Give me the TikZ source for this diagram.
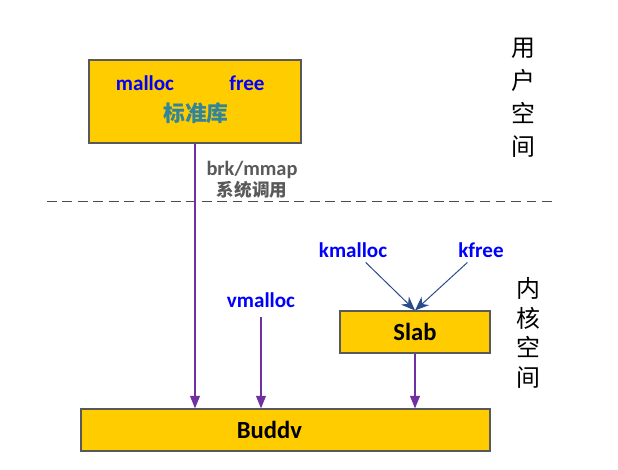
\documentclass[tikz,border=0pt]{standalone}
\usepackage{fontspec}
\setmainfont{Carlito}
\newfontfamily\cjk{Noto Sans CJK SC}
\usetikzlibrary{arrows.meta}
\definecolor{boxyellow}{RGB}{255,204,0}
\definecolor{callpurple}{RGB}{112,48,160}
\definecolor{fnblue}{RGB}{0,0,255}
\definecolor{libteal}{RGB}{49,133,155}
\definecolor{sysgray}{RGB}{89,89,89}
\definecolor{slabarrow}{RGB}{40,75,140}

\begin{document}
\begin{tikzpicture}
[x=0.025cm,y=-0.025cm,
 box/.style={draw=black!65,line width=0.8pt,fill=boxyellow,inner sep=0pt},
 fn/.style={text=fnblue,font=\fontsize{15}{16}\selectfont\bfseries},
 space/.style={align=center,font=\cjk\fontsize{17}{23.5}\selectfont},
 call/.style={draw=callpurple,line width=1.1pt,-{Triangle[length=9pt,width=7pt]}},
 feed/.style={draw=slabarrow,line width=0.7pt,-{Stealth[length=10pt,width=8pt]}}]
\useasboundingbox (0,0) rectangle (618,469);
% user space
\node[box,minimum width=5.3cm,minimum height=2.075cm] (lib) at (195,101.5) {};
\node[fn] (malloc) at (145,83) {malloc};
\node[fn] (free) at (247,83) {free};
\node[text=libteal,font=\cjk\fontsize{15.5}{16}\selectfont\bfseries] (stdlib) at (196,113) {标准库};
\node[space] (user) at (523,97.5) {用\\户\\空\\间};
% boundary
\coordinate (dl) at (47,201);
\coordinate (dr) at (557,201);
\draw[black!70,line width=0.7pt,dash pattern=on 7pt off 4pt] (dl) -- (dr);
\node[text=sysgray,align=center,font=\fontsize{14.5}{14}\selectfont\bfseries] (syscall) at (252,180)
  {brk/mmap\\[1pt]{\cjk\fontsize{12.5}{13}\selectfont 系统调用}};
% kernel space
\node[space,font=\cjk\fontsize{17}{21}\selectfont] (kernel) at (528,333) {内\\核\\空\\间};
\node[fn] (kmalloc) at (353,250) {kmalloc};
\node[fn] (kfree) at (481,250) {kfree};
\node[fn] (vmalloc) at (261,300) {vmalloc};
\node[box,minimum width=3.75cm,minimum height=1.05cm,font=\fontsize{17.5}{18}\selectfont\bfseries] (slab) at (415,332) {Slab};
\node[box,minimum width=10.225cm,minimum height=1.05cm,font=\fontsize{17.5}{18}\selectfont\bfseries] (buddy) at (285.5,430) {\hspace*{-23pt}Buddv};
\foreach \from in {kmalloc,kfree}
\draw[feed] (\from) -- (slab.north);
\foreach \from in {lib,slab}
\draw[call] (\from) -- (\from |- buddy.north);
\draw[call,shorten <=3pt] (vmalloc.south) -- (vmalloc.south |- buddy.north);
\end{tikzpicture}
\end{document}
